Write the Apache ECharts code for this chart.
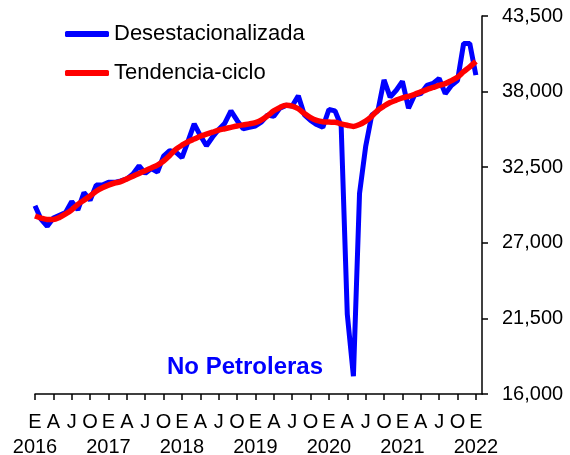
<!DOCTYPE html>
<html>
<head>
<meta charset="utf-8">
<script src="https://cdn.jsdelivr.net/npm/echarts@6/dist/echarts.min.js"></script>
<style>
  html, body { margin: 0; padding: 0; background: #fff; }
  #main { width: 570px; height: 455px; }
</style>
</head>
<body>
<div id="main"></div>
<script>
  // meses ene-2016 .. feb-2022 (el ultimo solo cierra el eje)
  var years = [2016, 2017, 2018, 2019, 2020, 2021, 2022];
  var quarterLetters = ['E', 'A', 'J', 'O'];

  var desestacionalizada = [
    29700, 28700, 28200, 28800, 29000, 29200, 30000, 29400, 30650, 30100, 31200, 31200,
    31400, 31400, 31500, 31650, 32000, 32600, 32050, 32400, 32150, 33300, 33700, 33600,
    33200, 34400, 35650, 34800, 34060, 34700, 35250, 35700, 36600, 35900, 35300, 35400,
    35500, 35800, 36300, 36200, 36800, 37000, 36950, 37700, 36300, 35900, 35600, 35400,
    36700, 36600, 35500, 21800, 17300, 30600, 34000, 36300, 36600, 38850, 37600, 38100,
    38750, 36800, 37750, 37850, 38450, 38600, 38950, 37850, 38450, 38800, 41500, 41500,
    39200
  ];

  var tendenciaCiclo = [
    28950, 28800, 28700, 28700, 28850, 29100, 29400, 29800, 30100, 30400, 30750, 31000,
    31200, 31350, 31450, 31650, 31850, 32050, 32250, 32450, 32650, 32950, 33350, 33800,
    34100, 34350, 34550, 34750, 34900, 35050, 35200, 35300, 35400, 35500, 35580, 35650,
    35750, 35950, 36250, 36600, 36850, 37000, 36950, 36750, 36400, 36100, 35900, 35800,
    35780, 35770, 35650, 35550, 35470, 35600, 35850, 36200, 36650, 36950, 37200, 37380,
    37550, 37650, 37800, 37980, 38150, 38300, 38450, 38580, 38800, 39050, 39450, 39800,
    40200
  ];

  var months = [];
  for (var y = 2016; y <= 2022; y++) {
    for (var m = 1; m <= 12; m++) {
      if (y === 2022 && m > 2) break;
      months.push(y + '-' + (m < 10 ? '0' + m : m));
    }
  }

  function isQuarter(i) { return i % 3 === 0 && i <= 72; }
  function isYear(i) { return i % 12 === 0 && i <= 72; }

  var labelFont = { fontSize: 20, color: '#000', fontFamily: 'Liberation Sans' };

  var myChart = echarts.init(document.getElementById('main'));
  myChart.setOption({
    animation: false,
    title: {
      text: 'No Petroleras',
      left: 162,
      top: 350,
      textStyle: { color: '#0000ff', fontSize: 24, fontWeight: 'bold', fontFamily: 'Liberation Sans' }
    },
    legend: {
      orient: 'vertical',
      left: 60,
      top: 17,
      icon: 'roundRect',
      itemWidth: 44,
      itemHeight: 6,
      itemGap: 15,
      textStyle: { fontSize: 22, color: '#000', fontFamily: 'Liberation Sans', lineHeight: 24 },
      data: ['Desestacionalizada', 'Tendencia-ciclo']
    },
    grid: { left: 35, right: 88, top: 16, bottom: 61, outerBoundsMode: 'none' },
    xAxis: [
      {
        type: 'category',
        data: months,
        boundaryGap: false,
        axisLine: { lineStyle: { color: '#000', width: 1.5 } },
        axisTick: { interval: function (i) { return isQuarter(i); }, length: 6, lineStyle: { color: '#000', width: 1.5 } },
        axisLabel: Object.assign({
          interval: function (i) { return isQuarter(i); },
          showMinLabel: true,
          hideOverlap: false,
          formatter: function (v, i) { return quarterLetters[(i % 12) / 3]; },
          margin: 18
        }, labelFont)
      },
      {
        type: 'category',
        data: months,
        boundaryGap: false,
        position: 'bottom',
        axisLine: { show: false },
        axisTick: { show: false },
        axisLabel: Object.assign({
          interval: function (i) { return isYear(i); },
          showMinLabel: true,
          hideOverlap: false,
          formatter: function (v, i) { return String(years[i / 12]); },
          margin: 43
        }, labelFont)
      }
    ],
    yAxis: {
      type: 'value',
      position: 'right',
      min: 16000,
      max: 43500,
      interval: 5500,
      splitLine: { show: false },
      axisLine: { show: true, lineStyle: { color: '#000', width: 1.5 } },
      axisTick: { show: true, length: 6, lineStyle: { color: '#000', width: 1.5 } },
      axisLabel: Object.assign({
        formatter: function (v) { return v.toLocaleString('en-US'); },
        margin: 20
      }, labelFont)
    },
    series: [
      {
        name: 'Desestacionalizada',
        type: 'line',
        xAxisIndex: 0,
        data: desestacionalizada,
        symbol: 'none',
        color: '#0000ff',
        lineStyle: { width: 5, color: '#0000ff' }
      },
      {
        name: 'Tendencia-ciclo',
        type: 'line',
        xAxisIndex: 0,
        data: tendenciaCiclo,
        symbol: 'none',
        smooth: 0.3,
        color: '#ff0000',
        lineStyle: { width: 5.5, color: '#ff0000' }
      }
    ]
  });
</script>
</body>
</html>
